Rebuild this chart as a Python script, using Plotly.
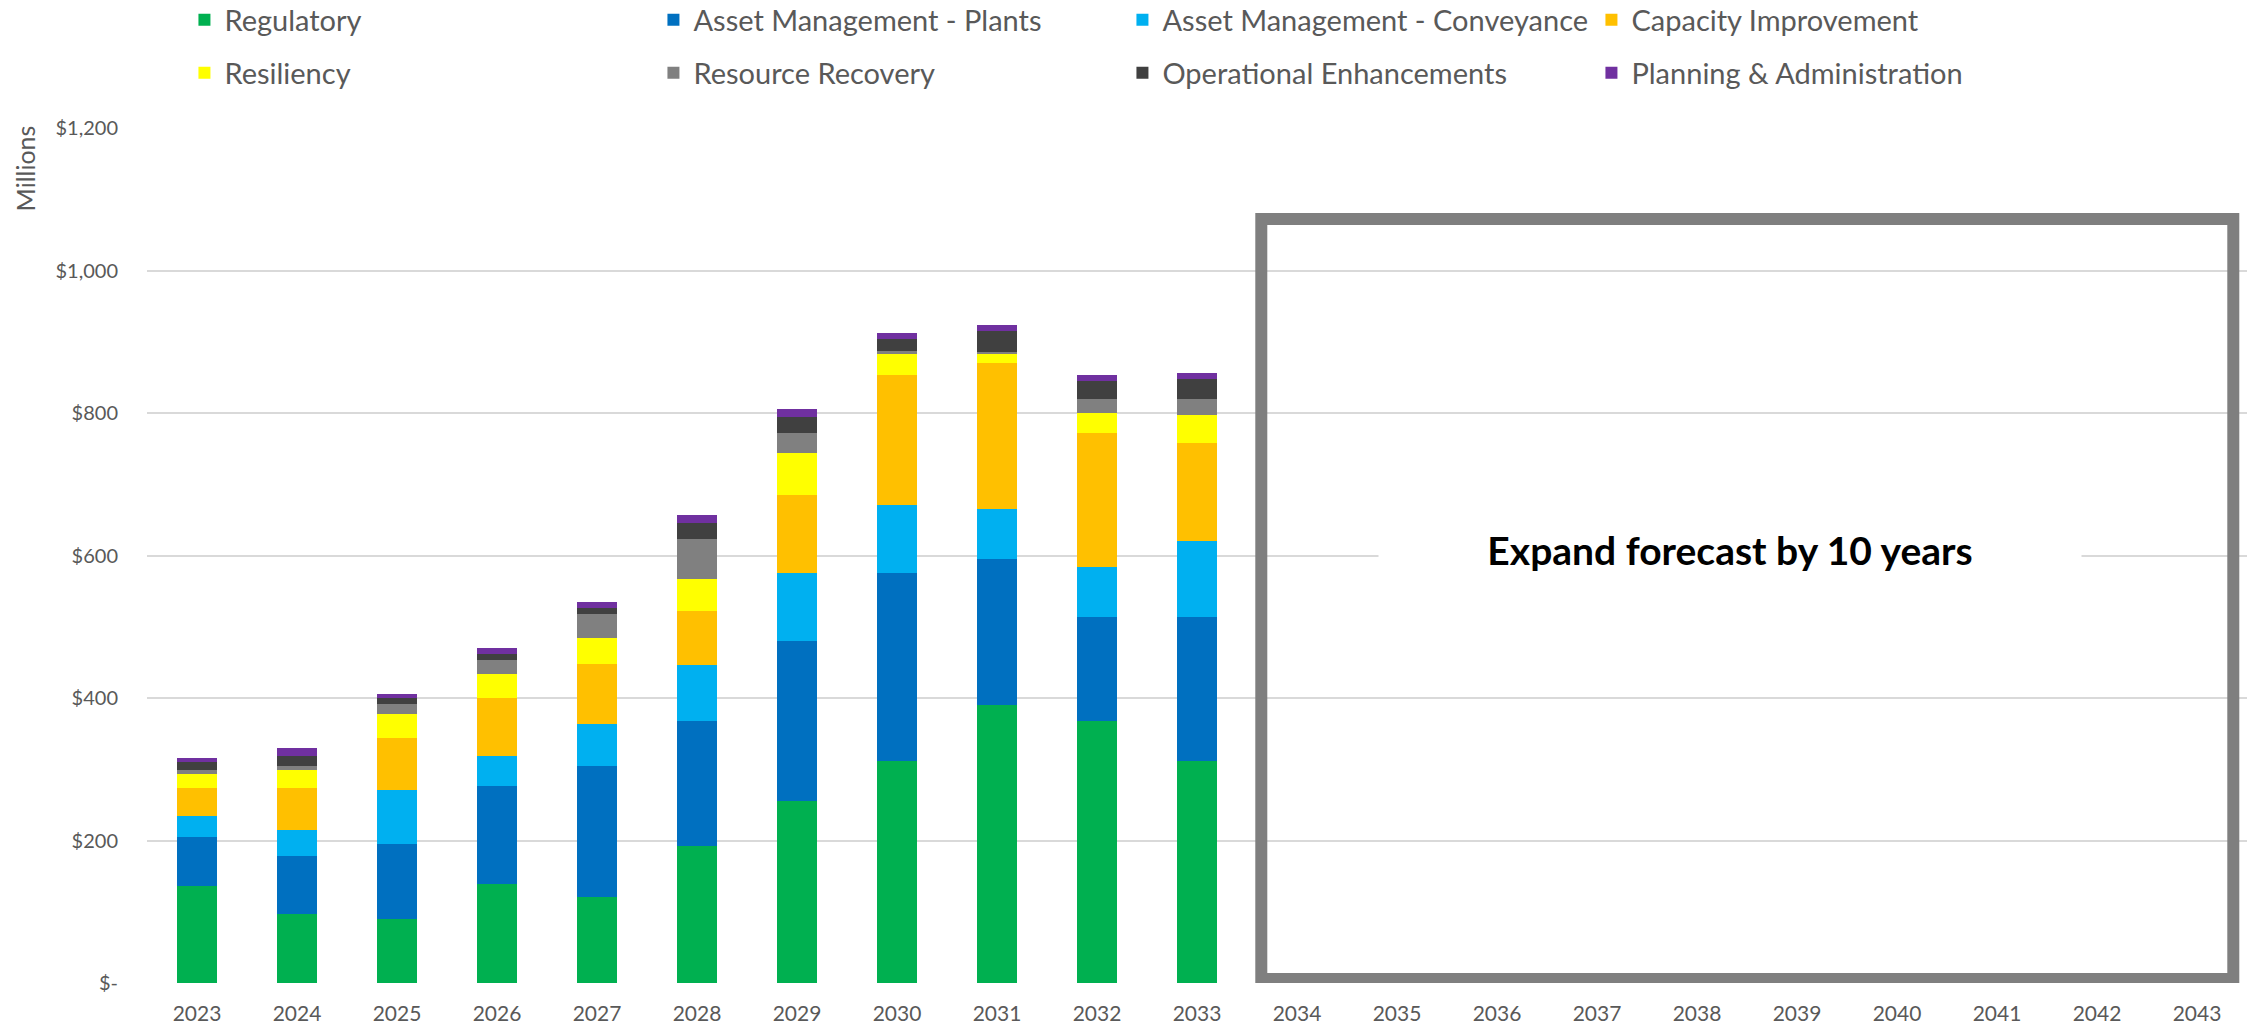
import plotly.graph_objects as go

years = [str(y) for y in range(2023, 2044)]
data_years = [str(y) for y in range(2023, 2034)]

regulatory = [135.5, 96.7, 90.2, 138.3, 121.3, 192.0, 255.5, 312.0, 390.0, 368.0, 312.0]
am_plants = [70.0, 81.0, 104.3, 137.7, 183.0, 175.7, 224.4, 263.3, 204.6, 146.0, 202.0]
am_conveyance = [29.0, 37.2, 76.0, 42.0, 59.0, 78.3, 96.0, 95.2, 70.0, 69.8, 106.5]
capacity = [38.8, 58.4, 73.2, 82.0, 84.1, 76.2, 108.6, 182.8, 205.3, 187.7, 137.6]
resiliency = [19.7, 25.2, 33.3, 33.3, 36.7, 44.5, 59.3, 30.4, 12.7, 28.3, 38.8]
resource_recovery = [5.5, 6.0, 14.3, 19.7, 33.8, 56.5, 27.5, 2.8, 3.6, 19.7, 22.6]
operational = [11.4, 14.2, 9.2, 8.7, 8.2, 22.5, 22.6, 16.9, 28.2, 25.4, 28.3]
planning = [5.5, 10.9, 5.0, 8.3, 8.8, 10.6, 11.3, 8.5, 8.5, 8.5, 8.4]

series_names = ["Regulatory", "Asset Management - Plants", "Asset Management - Conveyance",
                "Capacity Improvement", "Resiliency", "Resource Recovery",
                "Operational Enhancements", "Planning & Administration"]
series_values = [regulatory, am_plants, am_conveyance, capacity, resiliency,
                 resource_recovery, operational, planning]
series_colors = ["#00B050", "#0070C0", "#00B0F0", "#FFC000", "#FFFF00", "#808080",
                 "#404040", "#7030A0"]

y_tickvals = [0, 200, 400, 600, 800, 1000, 1200]
y_ticktext = ["$-", "$200", "$400", "$600", "$800", "$1,000", "$1,200"]

FONT = "Lato"
GREY = "#595959"

fig = go.Figure()
for i, (name, vals, col) in enumerate(zip(series_names, series_values, series_colors)):
    fig.add_trace(go.Bar(
        x=data_years, y=vals, name=name, marker=dict(color=col, line=dict(width=0)),
        legend="legend" if i < 4 else "legend2",
    ))

legend_common = dict(
    orientation="h", entrywidth=424, entrywidthmode="pixels",
    font=dict(family=FONT, size=29, color=GREY), bgcolor="rgba(0,0,0,0)",
    xanchor="left", yanchor="middle", traceorder="normal",
    xref="container", yref="container",
)

fig.update_layout(
    width=2252, height=1029,
    margin=dict(l=147, r=5, t=128, b=46),
    paper_bgcolor="white", plot_bgcolor="white",
    barmode="stack", bargap=0.6,
    font=dict(family=FONT, color=GREY),
    legend=dict(x=0.0819, y=0.9806, **legend_common),
    legend2=dict(x=0.0819, y=0.9291, **legend_common),
    xaxis=dict(
        type="category", categoryorder="array", categoryarray=years,
        range=[-0.5, 20.5], showgrid=False, showline=False, zeroline=False,
        tickfont=dict(family=FONT, size=21, color=GREY), ticks="",
        ticklabelstandoff=16,
    ),
    yaxis=dict(
        range=[0, 1200], tickvals=y_tickvals, ticktext=y_ticktext,
        showgrid=True, gridcolor="#D9D9D9", gridwidth=2, zeroline=False,
        showline=False, tickfont=dict(family=FONT, size=20, color=GREY),
        ticks="", ticklabelstandoff=28,
    ),
    showlegend=True,
)

fig.add_shape(type="rect", xref="x", yref="y", x0=10.643, x1=20.363, y0=5.6, y1=1072.3,
              line=dict(color="#7F7F7F", width=12), fillcolor="rgba(0,0,0,0)", layer="above")

fig.add_annotation(text="<b>Expand forecast by 10 years</b>", xref="x", yref="y",
                   x=15.33, y=607.7, showarrow=False, width=700, height=54,
                   bgcolor="white", font=dict(family=FONT, size=39, color="black"))

fig.add_annotation(text="Millions", xref="paper", yref="paper", x=-0.058, y=0.953,
                   textangle=-90, showarrow=False, xanchor="center", yanchor="middle",
                   font=dict(family=FONT, size=25, color=GREY))

fig.write_html("out.html")
